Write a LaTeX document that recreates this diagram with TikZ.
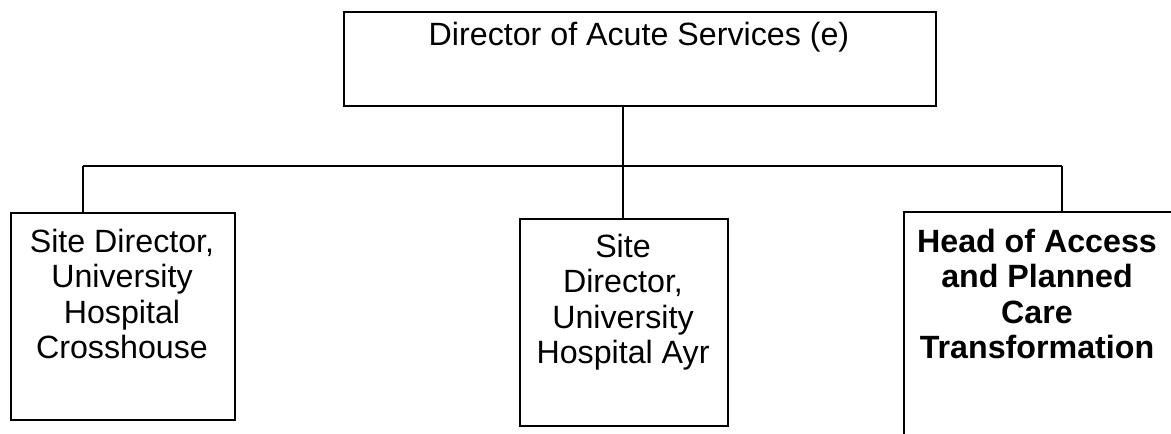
\documentclass[tikz,border=0pt]{standalone}
\usepackage{fontspec}
\setmainfont{Liberation Sans}
\begin{document}
\begin{tikzpicture}[x=1pt,y=-1pt,
  box/.style={draw=black,line width=1.6pt,inner sep=0pt,anchor=north west},
  lbl/.style={anchor=north,inner sep=0pt,align=center,font=\fontsize{32.2}{35.4}\selectfont},
  conn/.style={draw=black,line width=1.8pt}]
\useasboundingbox (0,0) rectangle (1171,434);
% boxes
\node[box,minimum width=592pt,minimum height=94pt] (top) at (343,11) {};
\node[box,minimum width=224pt,minimum height=207pt] (left) at (10,212) {};
\node[box,minimum width=208pt,minimum height=207pt] (mid) at (519,218) {};
\node[box,minimum width=290pt,minimum height=260pt] (right) at (903,211) {};
% texts
\node[lbl] (ttop) at (639,21) {\rule{0pt}{24pt}Director of Acute Services (e)};
\node[lbl] (tleft) at (122,228) {\rule{0pt}{24pt}Site Director,\\University\\Hospital\\Crosshouse};
\node[lbl] (tmid) at (623,233) {\rule{0pt}{24pt}Site\\Director,\\University\\Hospital Ayr};
\node[lbl,font=\fontsize{32.2}{35.4}\selectfont\bfseries] (tright) at (1037,228) {\rule{0pt}{24pt}Head of Access\\and Planned\\Care\\Transformation};
% connectors
\coordinate (jl) at (83,166);
\coordinate (jm) at (623,166);
\coordinate (jr) at (1062,166);
\draw[conn] (top.south -| jm) -- ([yshift=-4pt]jm);
\draw[conn] (jl) -- (jr);
\draw[conn] (jl) -- (jl |- left.north);
\draw[conn] (jm) -- (jm |- mid.north);
\draw[conn] (jr) -- (jr |- right.north);
\end{tikzpicture}
\end{document}
